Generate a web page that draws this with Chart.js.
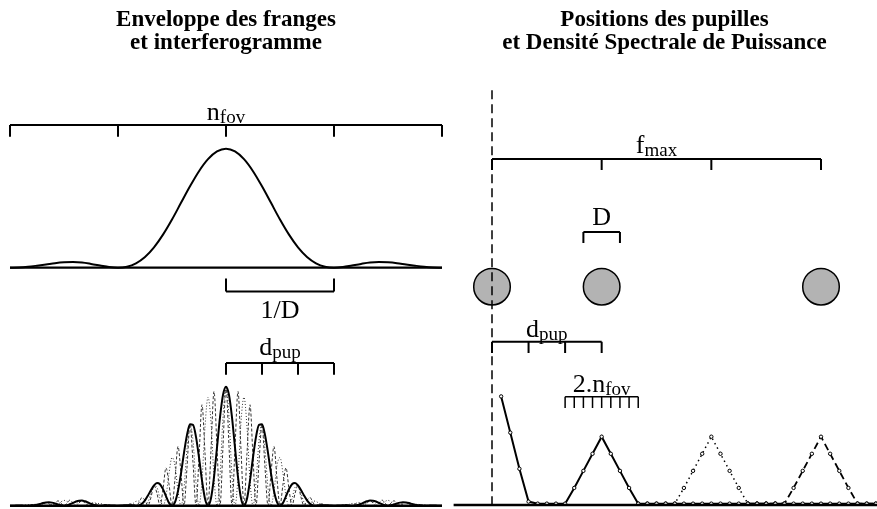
<!DOCTYPE html>
<html><head><meta charset="utf-8">
<script src="https://cdn.jsdelivr.net/npm/chart.js@4.4.1/dist/chart.umd.min.js"></script>
<style>
html,body{margin:0;padding:0;background:#fff;}
#wrap{position:relative;width:877px;height:509px;overflow:hidden;background:#fff;}
.title{position:absolute;top:7px;font:bold 23px/23px "Liberation Serif","Times New Roman",serif;text-align:center;color:#000;white-space:nowrap;}
#cL{position:absolute;left:0;top:0;}
#cR{position:absolute;left:452px;top:0;}
</style></head><body>
<div id="wrap">
<canvas id="cL" width="452" height="509"></canvas>
<canvas id="cR" width="425" height="509"></canvas>
<div class="title" style="left:0;width:452px">Enveloppe des franges<br>et interferogramme</div>
<div class="title" style="left:452px;width:425px">Positions des pupilles<br>et Densité Spectrale de Puissance</div>
</div>
<script>
// ---------- LEFT PANEL DATA (x in steps of 1/36 of 1/D) ----------
const lagSteps = [-72,-71,-70,-69,-68,-67,-66,-65,-64,-63,-62,-61,-60,-59,-58,-57,-56,-55,-54,-53,-52,-51,-50,-49,-48,-47,-46,-45,-44,-43,-42,-41,-40,-39,-38,-37,-36,-35,-34,-33,-32,-31,-30,-29,-28,-27,-26,-25,-24,-23,-22,-21,-20,-19,-18,-17,-16,-15,-14,-13,-12,-11,-10,-9,-8,-7,-6,-5,-4,-3,-2,-1,
0,1,2,3,4,5,6,7,8,9,10,11,12,13,14,15,16,17,18,19,20,21,22,23,24,25,26,27,28,29,30,31,32,33,34,35,36,37,38,39,40,41,42,43,44,45,46,47,48,49,50,51,52,53,54,55,56,57,58,59,60,61,62,63,64,65,66,67,68,69,70,71,72];

const envSteps = [-72,-69,-66,-63,-60,-57,-54,-51,-48,-45,-42,-39,-36,-33,-30,-27,-24,-21,-18,-15,-12,-9,-6,-3,0,3,6,9,12,15,18,21,24,27,30,33,36,39,42,45,48,51,54,57,60,63,66,69,72];
const envelope = [0,0.002,0.008,0.017,0.027,0.038,0.045,0.047,0.043,0.032,0.019,0.006,0,0.008,0.037,0.090,0.171,0.278,0.405,0.545,0.684,0.811,0.912,0.977,1.000,0.977,0.912,0.811,0.684,0.545,0.405,0.278,0.171,0.090,0.037,0.008,0,0.006,0.019,0.032,0.043,0.047,0.045,0.038,0.027,0.017,0.008,0.002,0];

const fringeBase1 = [0,0,0.001,0.001,0.001,0,0,0.001,0.003,0.008,0.015,0.022,0.027,0.029,0.026,0.019,0.010,0.003,0,0.003,0.012,0.024,0.035,0.042,0.043,0.037,0.027,0.016,0.007,0.002,0,0.001,0.002,0.003,0.002,0.001,0,0.001,0.003,0.004,0.004,0.002,0,0.003,0.017,0.045,0.086,0.132,0.171,0.190,0.180,0.139,0.080,0.024,0,0.030,0.124,0.272,0.444,0.595,0.684,0.679,0.578,0.405,0.212,0.059,0,0.063,0.240,0.489,0.742,0.931,
1.000,0.931,0.742,0.489,0.240,0.063,0,0.059,0.212,0.405,0.578,0.679,0.684,0.595,0.444,0.272,0.124,0.030,0,0.024,0.080,0.139,0.180,0.190,0.171,0.132,0.086,0.045,0.017,0.003,0,0.002,0.004,0.004,0.003,0.001,0,0.001,0.002,0.003,0.002,0.001,0,0.002,0.007,0.016,0.027,0.037,0.043,0.042,0.035,0.024,0.012,0.003,0,0.003,0.010,0.019,0.026,0.029,0.027,0.022,0.015,0.008,0.003,0.001,0,0,0.001,0.001,0.001,0,0];

const fringeBase2 = [0,0,0,0,0.001,0.004,0.008,0.008,0.003,0,0.005,0.018,0.027,0.023,0.009,0,0.010,0.032,0.045,0.035,0.012,0,0.012,0.034,0.043,0.030,0.009,0,0.007,0.018,0.019,0.011,0.002,0,0.001,0.001,0,0.001,0.001,0,0.004,0.018,0.037,0.039,0.017,0,0.029,0.106,0.171,0.153,0.060,0,0.080,0.271,0.405,0.338,0.124,0,0.148,0.479,0.684,0.546,0.193,0,0.212,0.661,0.912,0.704,0.240,0,0.247,0.748,
1.000,0.748,0.247,0,0.240,0.704,0.912,0.661,0.212,0,0.193,0.546,0.684,0.479,0.148,0,0.124,0.338,0.405,0.271,0.080,0,0.060,0.153,0.171,0.106,0.029,0,0.017,0.039,0.037,0.018,0.004,0,0.001,0.001,0,0.001,0.001,0,0.002,0.011,0.019,0.018,0.007,0,0.009,0.030,0.043,0.034,0.012,0,0.012,0.035,0.045,0.032,0.010,0,0.009,0.023,0.027,0.018,0.005,0,0.003,0.008,0.008,0.004,0.001,0,0,0,0];

const fringeBase3 = [0,0,0,0.001,0.003,0.003,0,0.005,0.013,0.008,0,0.012,0.027,0.016,0,0.019,0.041,0.022,0,0.023,0.047,0.024,0,0.022,0.043,0.020,0,0.016,0.028,0.012,0,0.007,0.010,0.003,0,0,0,0,0,0.004,0.015,0.012,0,0.026,0.069,0.045,0,0.071,0.171,0.102,0,0.139,0.318,0.181,0,0.225,0.498,0.272,0,0.319,0.684,0.364,0,0.405,0.848,0.441,0,0.469,0.960,0.489,0,0.499,
1.000,0.499,0,0.489,0.960,0.469,0,0.441,0.848,0.405,0,0.364,0.684,0.319,0,0.272,0.498,0.225,0,0.181,0.318,0.139,0,0.102,0.171,0.071,0,0.045,0.069,0.026,0,0.012,0.015,0.004,0,0,0,0,0,0.003,0.010,0.007,0,0.012,0.028,0.016,0,0.020,0.043,0.022,0,0.024,0.047,0.023,0,0.022,0.041,0.019,0,0.016,0.027,0.012,0,0.008,0.013,0.005,0,0.003,0.003,0.001,0,0,0];

const nfovTicks = [-72,-36,0,36,72];
const invDTicks = [0,36];
const dpupLeftTicks = [0,12,24,36];
const leftAxisRange = [-72,72];

// ---------- RIGHT PANEL DATA (x in steps of 1/12 of the pupil spacing) ----------
const pupilPositions = [0,12,36];
const psdSteps = [1,2,3,4,5,6,7,8,9,10,11,12,13,14,15,16,17,18,19,20,21,22,23,24,25,26,27,28,29,30,31,32,33,34,35,36,37,38,39,40,41,42];
const psdBase1 = [1.59,1.06,0.53,0.05,0.02,0.02,0.02,0.02,0.25,0.50,0.75,1.00,0.75,0.50,0.25,0.02,0.02,0.02,0.02,0.02,0.02,0.02,0.02,0.02,0.02,0.02,0.02,0.02,0.02,0.02,0.02,0.02,0.02,0.02,0.02,0.02,0.02,0.02,0.02,0.02,0.02,0.02];
const psdBase2 = [null,null,null,null,null,null,null,null,null,null,null,null,null,null,null,0.02,0.02,0.02,0.02,0.02,0.25,0.50,0.75,1.00,0.75,0.50,0.25,0.02,0.02,0.02,0.02,0.02,null,null,null,null,null,null,null,null,null,null];
const psdBase3 = [null,null,null,null,null,null,null,null,null,null,null,null,null,null,null,null,null,null,null,null,null,null,null,null,null,null,null,0.02,0.02,0.02,0.02,0.02,0.25,0.50,0.75,1.00,0.75,0.50,0.25,0.02,0.02,0.02];
const fmaxTicks = [0,12,24,36];
const diamTicks = [10,14];
const dpupRightTicks = [0,4,8,12];
const nfov2Ticks = [8,9,10,11,12,13,14,15,16];
const rightAxisRange = [-4.2,42.2];
const pupilAxisLine = [1.65,-1.9];

// ---------- helpers ----------
function xy(xs, ys){ return xs.map((x,i)=>({x:x, y:ys[i]})); }
function bracket(ticks, level, depth){
  const p = [{x:ticks[0], y:level},{x:ticks[ticks.length-1], y:level},{x:ticks[0], y:null}];
  ticks.forEach(t => { p.push({x:t,y:level}); p.push({x:t,y:level-depth}); p.push({x:t,y:null}); });
  return p;
}
const FONT = '"Liberation Serif","Times New Roman",serif';
const textPlugin = {
  id: 'sketchText',
  afterDatasetsDraw(chart, args, opts){
    const ctx = chart.ctx;
    ctx.save();
    ctx.fillStyle = '#000';
    ctx.textBaseline = 'alphabetic';
    ctx.textAlign = 'left';
    for (const it of (opts.items || [])){
      const px = chart.scales[it.xAxis].getPixelForValue(it.x);
      const py = chart.scales[it.yAxis].getPixelForValue(it.y);
      ctx.font = opts.size + 'px ' + FONT;
      const wm = ctx.measureText(it.main).width;
      ctx.font = opts.subSize + 'px ' + FONT;
      const ws = it.sub ? ctx.measureText(it.sub).width : 0;
      const x0 = px - (wm + ws) / 2;
      ctx.font = opts.size + 'px ' + FONT;
      ctx.fillText(it.main, x0, py);
      if (it.sub){
        ctx.font = opts.subSize + 'px ' + FONT;
        ctx.fillText(it.sub, x0 + wm, py + opts.subDrop);
      }
    }
    ctx.restore();
  }
};
function lineDs(data, xAxisID, yAxisID, extra){
  return Object.assign({type:'line', data, xAxisID, yAxisID, showLine:true, borderColor:'#000', borderWidth:2,
    pointRadius:0, fill:false, tension:0, spanGaps:false}, extra || {});
}
const common = {
  responsive:false, animation:false, devicePixelRatio:1, events:[],
  layout:{padding:0, autoPadding:false},
  plugins:{legend:{display:false}, tooltip:{enabled:false}, title:{display:false}}
};

// ---------- LEFT CHART ----------
new Chart(document.getElementById('cL'), {
  type:'scatter',
  data:{datasets:[
    lineDs(xy(leftAxisRange,[0,0]), 'xL','yTop', {order:0, borderWidth:2.2}),
    lineDs(xy(leftAxisRange,[0,0]), 'xL','yBot', {order:0, borderWidth:2.4}),
    lineDs(xy(envSteps, envelope), 'xL','yTop', {order:1, cubicInterpolationMode:'monotone'}),
    lineDs(bracket(nfovTicks, 1.2, 0.1), 'xL','yTop', {order:1}),
    lineDs(bracket(invDTicks, -0.2, -0.11), 'xL','yTop', {order:1}),
    lineDs(bracket(dpupLeftTicks, 1.2, 0.1), 'xL','yBot', {order:1}),
    lineDs(xy(lagSteps, fringeBase1), 'xL','yBot', {order:2, cubicInterpolationMode:'monotone'}),
    lineDs(xy(lagSteps, fringeBase2), 'xL','yBot', {order:3, borderWidth:1, borderColor:'#333', borderDash:[1,2], cubicInterpolationMode:'monotone'}),
    lineDs(xy(lagSteps, fringeBase3), 'xL','yBot', {order:4, borderWidth:1, borderColor:'#333', borderDash:[3,2], cubicInterpolationMode:'monotone'})
  ]},
  options: Object.assign({}, common, {
    scales:{
      xL:{type:'linear', axis:'x', display:false, min:-75.333, max:75.333},
      yTop:{type:'linear', axis:'y', display:false, min:-2.0277, max:2.2496},
      yBot:{type:'linear', axis:'y', display:false, min:-0.0277, max:4.2496}
    },
    plugins: Object.assign({}, common.plugins, {
      sketchText:{size:26, subSize:19, subDrop:3, items:[
        {main:'n', sub:'fov', x:0, y:1.24, xAxis:'xL', yAxis:'yTop'},
        {main:'1/D', x:18, y:-0.425, xAxis:'xL', yAxis:'yTop'},
        {main:'d', sub:'pup', x:18, y:1.266, xAxis:'xL', yAxis:'yBot'}
      ]}
    })
  }),
  plugins:[textPlugin]
});

// ---------- RIGHT CHART ----------
new Chart(document.getElementById('cR'), {
  type:'scatter',
  data:{datasets:[
    lineDs(xy(rightAxisRange,[0,0]), 'xR','yPSD', {order:0, borderWidth:2.4}),
    lineDs(xy([0,0], pupilAxisLine), 'xR','yPup', {order:0, borderWidth:1.5, borderDash:[9,5]}),
    {type:'scatter', data:xy(pupilPositions,[0,0,0]), xAxisID:'xR', yAxisID:'yPup', order:5,
      pointRadius:18.3, pointBackgroundColor:'#b3b3b3', pointBorderColor:'#000', pointBorderWidth:1.5, showLine:false},
    lineDs(bracket(fmaxTicks, 1.073, 0.092), 'xR','yPup', {order:1}),
    lineDs(bracket(diamTicks, 0.46, 0.092), 'xR','yPup', {order:1}),
    lineDs(bracket(dpupRightTicks, -0.462, 0.095), 'xR','yPup', {order:1}),
    lineDs(bracket(nfov2Ticks, -0.924, 0.095), 'xR','yPup', {order:1, borderWidth:1.5}),
    lineDs(xy(psdSteps, psdBase1), 'xR','yPSD', {order:2, borderWidth:2, pointRadius:1.7, pointBackgroundColor:'#fff', pointBorderColor:'#000', pointBorderWidth:1}),
    lineDs(xy(psdSteps, psdBase2), 'xR','yPSD', {order:3, borderWidth:1.5, borderDash:[1.5,3.5], pointRadius:1.7, pointBackgroundColor:'#fff', pointBorderColor:'#000', pointBorderWidth:1}),
    lineDs(xy(psdSteps, psdBase3), 'xR','yPSD', {order:4, borderWidth:1.8, borderDash:[7,4], pointRadius:1.7, pointBackgroundColor:'#fff', pointBorderColor:'#000', pointBorderWidth:1})
  ]},
  options: Object.assign({}, common, {
    scales:{
      xR:{type:'linear', axis:'x', display:false, min:-4.377, max:42.127},
      yPSD:{type:'linear', axis:'y', display:false, min:-0.0586, max:7.394},
      yPup:{type:'linear', axis:'y', display:false, min:-1.868, max:2.409}
    },
    plugins: Object.assign({}, common.plugins, {
      sketchText:{size:26, subSize:19, subDrop:3, items:[
        {main:'f', sub:'max', x:18, y:1.12, xAxis:'xR', yAxis:'yPup'},
        {main:'D', x:12, y:0.518, xAxis:'xR', yAxis:'yPup'},
        {main:'d', sub:'pup', x:6, y:-0.42, xAxis:'xR', yAxis:'yPup'},
        {main:'2.n', sub:'fov', x:12, y:-0.882, xAxis:'xR', yAxis:'yPup'}
      ]}
    })
  }),
  plugins:[textPlugin]
});
</script>
</body></html>
